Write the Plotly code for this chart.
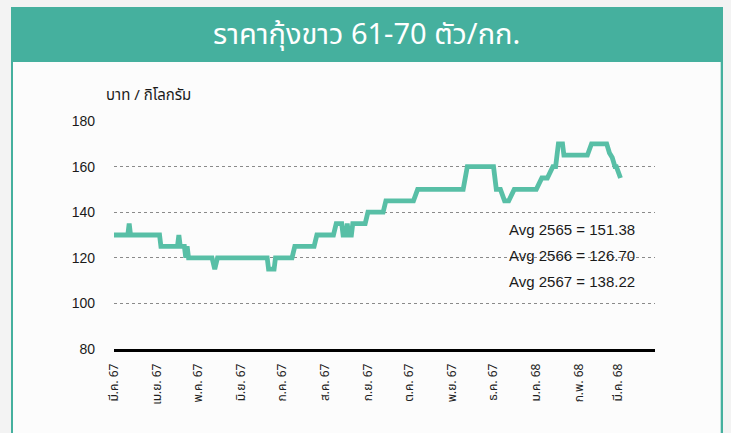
import plotly.graph_objects as go

# ---- data ----
dates = [
    "2024-03-01", "2024-03-11", "2024-03-12", "2024-03-13", "2024-04-03", "2024-04-04",
    "2024-04-16", "2024-04-17", "2024-04-18", "2024-04-21", "2024-04-22", "2024-04-23",
    "2024-04-24", "2024-05-11", "2024-05-13", "2024-05-15", "2024-06-20", "2024-06-21",
    "2024-06-25", "2024-06-26", "2024-07-08", "2024-07-10", "2024-07-24", "2024-07-26",
    "2024-08-07", "2024-08-09", "2024-08-13", "2024-08-14", "2024-08-16", "2024-08-17",
    "2024-08-18", "2024-08-20", "2024-08-21", "2024-08-30", "2024-09-01", "2024-09-12",
    "2024-09-14", "2024-10-04", "2024-10-07", "2024-11-09", "2024-11-12", "2024-12-01",
    "2024-12-03", "2024-12-06", "2024-12-09", "2024-12-12", "2024-12-16", "2025-01-01",
    "2025-01-05", "2025-01-09", "2025-01-13", "2025-01-15", "2025-01-17", "2025-01-20",
    "2025-01-21", "2025-02-07", "2025-02-10", "2025-02-21", "2025-02-23", "2025-02-25",
    "2025-02-27", "2025-02-28", "2025-03-03",
]
prices = [
    130, 130, 135, 130, 130, 125,
    125, 130, 125, 125, 120, 125,
    120, 120, 115, 120, 120, 115,
    115, 120, 120, 125, 125, 130,
    130, 135, 135, 130, 130, 135,
    130, 130, 135, 135, 140, 140,
    145, 145, 150, 150, 160, 160,
    150, 150, 145, 145, 150, 150,
    155, 155, 160, 160, 170, 170,
    165, 165, 170, 170, 166, 164,
    160, 160, 155,
]

tick_dates = [
    "2024-03-01", "2024-04-01", "2024-05-01", "2024-06-01", "2024-07-01", "2024-08-01",
    "2024-09-01", "2024-10-01", "2024-11-01", "2024-12-01", "2025-01-01", "2025-02-01",
    "2025-03-01",
]
tick_labels = [
    "มี.ค. 67", "เม.ย. 67", "พ.ค. 67", "มิ.ย. 67", "ก.ค. 67", "ส.ค. 67",
    "ก.ย. 67", "ต.ค. 67", "พ.ย. 67", "ธ.ค. 67", "ม.ค. 68", "ก.พ. 68", "มี.ค. 68",
]
y_ticks = [80, 100, 120, 140, 160, 180]

avg_labels = ["Avg 2565 = 151.38", "Avg 2566 = 126.70", "Avg 2567 = 138.22"]

title_text = "ราคากุ้งขาว 61-70 ตัว/กก."
y_title = "บาท / กิโลกรัม"

TEAL = "#45b09e"
LINE = "#58bfa6"
THAI = "Noto Sans Thai, Noto Sans, Liberation Sans, sans-serif"
LAT = "Liberation Sans, Arial, sans-serif"

W, H = 731, 433
L, R, T, B = 114, 76, 121, 84
PW, PH = W - L - R, H - T - B


def px(x):
    return (x - L) / PW


def py(y):
    return 1 - (y - T) / PH


fig = go.Figure()
fig.add_trace(go.Scatter(
    x=dates, y=prices, mode="lines",
    line=dict(color=LINE, width=4.8),
    hoverinfo="skip", showlegend=False,
))

shapes = [
    # teal frame
    dict(type="rect", xref="paper", yref="paper", x0=px(11), x1=px(723), y0=py(440), y1=py(7),
         fillcolor=TEAL, line=dict(width=0), layer="below"),
    # white panel
    dict(type="rect", xref="paper", yref="paper", x0=px(13), x1=px(720.7), y0=py(440), y1=py(62),
         fillcolor="#fcfcfc", line=dict(width=0), layer="below"),
]

annotations = [
    dict(text=title_text, xref="paper", yref="paper", x=px(366), y=py(35),
         xanchor="center", yanchor="middle", showarrow=False,
         font=dict(family=THAI, size=29, color="white")),
    dict(text=y_title, xref="paper", yref="paper", x=px(104), y=py(95),
         xanchor="left", yanchor="middle", showarrow=False,
         font=dict(family=THAI, size=15, color="#1a1a1a")),
]
for i, t in enumerate(avg_labels):
    annotations.append(dict(text=t, xref="paper", yref="paper", x=px(507), y=py(229 + 26.3 * i),
                            xanchor="left", yanchor="middle", showarrow=False,
                            font=dict(family=LAT, size=15, color="#1a1a1a")))

fig.update_layout(
    width=W, height=H,
    margin=dict(l=L, r=R, t=T, b=B),
    paper_bgcolor="#f3f3f3",
    plot_bgcolor="rgba(0,0,0,0)",
    shapes=shapes,
    annotations=annotations,
    xaxis=dict(
        type="date", range=["2024-03-01", "2025-03-28"],
        tickvals=tick_dates, ticktext=tick_labels, tickangle=-90,
        showgrid=False, zeroline=False,
        showline=True, linecolor="black", linewidth=2.5,
        ticks="", ticklabelstandoff=7,
        tickfont=dict(family=THAI, size=12, color="#222"),
    ),
    yaxis=dict(
        range=[80, 180], tickvals=y_ticks,
        showgrid=True, gridcolor="#8a8a8a", griddash="dot", gridwidth=1,
        zeroline=False, showline=False,
        ticks="", ticklabelstandoff=18,
        tickfont=dict(family=LAT, size=14, color="#1a1a1a"),
    ),
)

fig.write_html("out.html", post_script="document.body.style.margin='0';",
               config={"displayModeBar": False})
